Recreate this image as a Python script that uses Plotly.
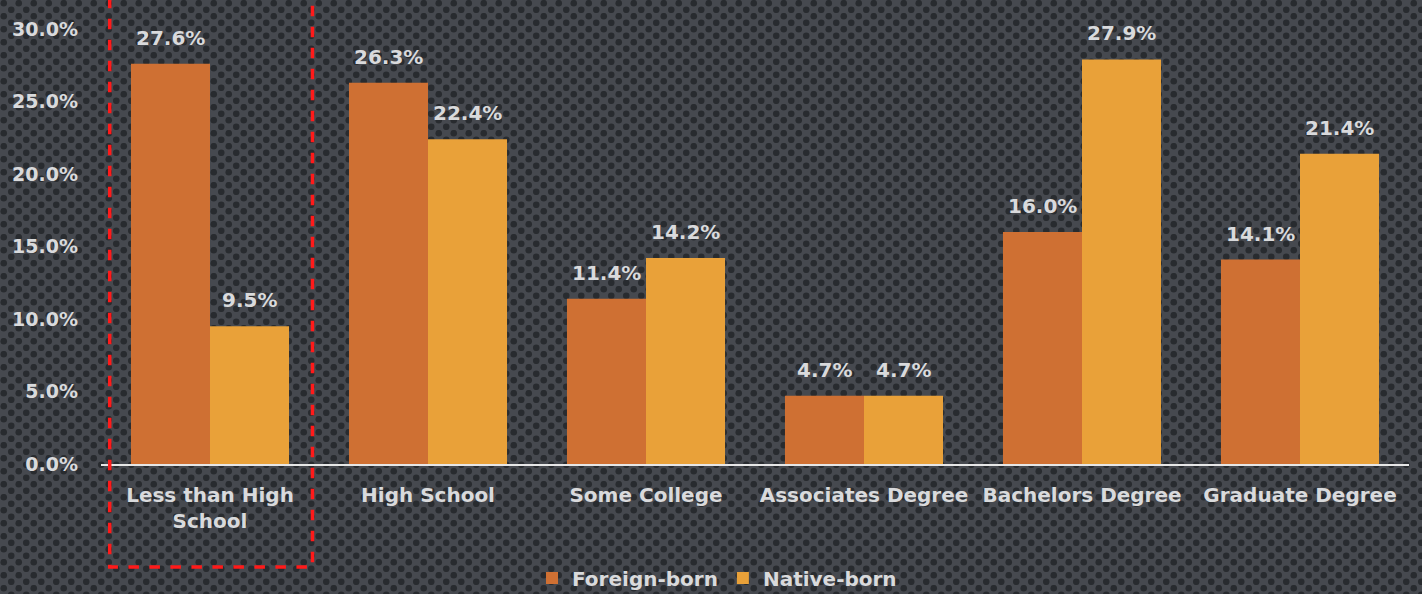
import plotly.graph_objects as go
import urllib.parse

categories = ["Less than High<br>School", "High School", "Some College",
              "Associates Degree", "Bachelors Degree", "Graduate Degree"]
foreign_born = [27.6, 26.3, 11.4, 4.7, 16.0, 14.1]
native_born = [9.5, 22.4, 14.2, 4.7, 27.9, 21.4]
y_ticks = [0, 5, 10, 15, 20, 25, 30]

FONT = "DejaVu Sans"
TXT = "#d9dadc"
W, H = 1422, 594
ML, MR, MT, MB = 101, 13, 29, 130
PW, PH = W - ML - MR, H - MT - MB
BARGAP = 0.275
HALF_BAR_PX = PW / len(categories) * (1 - BARGAP) / 4  # center offset of each bar in group

# dotted background texture
svg = (f'<svg xmlns="http://www.w3.org/2000/svg" width="{W}" height="{H}">'
       '<defs><pattern id="p" width="15" height="13" patternUnits="userSpaceOnUse">'
       '<rect width="15" height="13" fill="#46494f"/>'
       '<circle cx="3.75" cy="3.25" r="3.3" fill="#282b2f"/>'
       '<circle cx="11.25" cy="9.75" r="3.3" fill="#282b2f"/>'
       '</pattern></defs>'
       f'<rect width="{W}" height="{H}" fill="url(#p)"/></svg>')
bg_src = "data:image/svg+xml;charset=utf-8," + urllib.parse.quote(svg)

fig = go.Figure()
fig.add_trace(go.Bar(name="Foreign-born", x=categories, y=foreign_born,
                     marker=dict(color="#cf7033", line=dict(width=0))))
fig.add_trace(go.Bar(name="Native-born", x=categories, y=native_born,
                     marker=dict(color="#e9a139", line=dict(width=0))))

# value labels above bars
annotations = []
for vals, shift in ((foreign_born, -HALF_BAR_PX), (native_born, HALF_BAR_PX)):
    for c, v in zip(categories, vals):
        annotations.append(dict(x=c, y=v, xref="x", yref="y", text=f"{v:.1f}%",
                                showarrow=False, xshift=shift, yshift=12, yanchor="bottom",
                                font=dict(size=20, color=TXT, family=FONT, weight="bold")))

fig.update_layout(
    width=W, height=H,
    margin=dict(l=ML, r=MR, t=MT, b=MB, autoexpand=False),
    paper_bgcolor="#3d4046", plot_bgcolor="rgba(0,0,0,0)",
    barmode="group", bargap=BARGAP, bargroupgap=0,
    font=dict(family=FONT, color=TXT, size=20),
    showlegend=True,
    legend=dict(orientation="h", x=0.5 - 38 / PW, xanchor="center", y=(464 - 578) / PH,
                yanchor="middle",
                font=dict(size=20, color=TXT, family=FONT, weight="bold"),
                bgcolor="rgba(0,0,0,0)", traceorder="normal", itemwidth=30),
    annotations=annotations,
    images=[dict(source=bg_src, xref="paper", yref="paper",
                 x=-ML / PW, y=1 + MT / PH, sizex=W / PW, sizey=H / PH,
                 xanchor="left", yanchor="top", sizing="stretch", layer="below")],
)
fig.update_xaxes(showgrid=False, showline=True, linecolor="#e6e6e6", linewidth=2,
                 ticks="", tickfont=dict(size=20, color=TXT, family=FONT, weight="bold"),
                 ticklabelstandoff=12, fixedrange=True)
fig.update_yaxes(range=[0, 30], tickvals=y_ticks, ticktext=[f"{v:.1f}%" for v in y_ticks],
                 showgrid=False, zeroline=False, showline=False,
                 tickfont=dict(size=19, color=TXT, family=FONT, weight="bold"),
                 ticklabelstandoff=22, fixedrange=True)

# red dashed highlight box around first category (open at top)
fig.add_shape(type="path", xref="x", yref="paper",
              path="M -0.46,1.12 L -0.46,-0.237 L 0.47,-0.237 L 0.47,1.12",
              line=dict(color="#ff1a1a", width=3.5, dash="dash"), layer="above")

fig.write_html("out.html", config={"displayModeBar": False},
               post_script="document.body.style.margin='0';document.body.style.overflow='hidden';")
